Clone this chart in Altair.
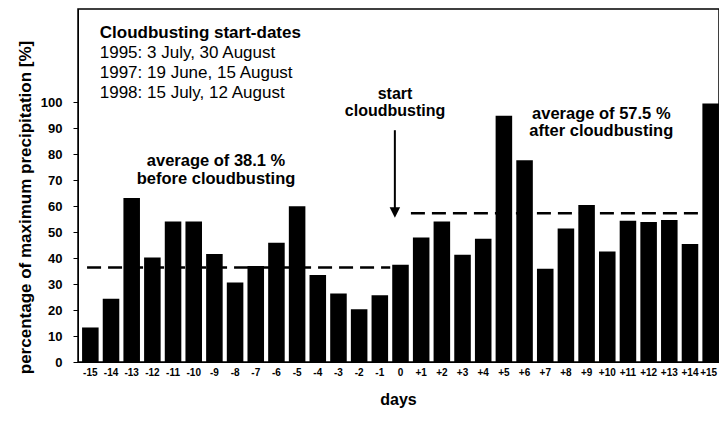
import altair as alt
import pandas as pd

# ---- data ----
days = ["-15", "-14", "-13", "-12", "-11", "-10", "-9", "-8", "-7", "-6", "-5",
        "-4", "-3", "-2", "-1", "0", "+1", "+2", "+3", "+4", "+5", "+6", "+7",
        "+8", "+9", "+10", "+11", "+12", "+13", "+14", "+15"]
precip = [13.3, 24.4, 63.2, 40.3, 54.1, 54.1, 41.6, 30.6, 37.0, 45.9, 60.0,
          33.5, 26.4, 20.3, 25.7, 37.5, 48.0, 54.1, 41.3, 47.5, 94.9, 77.7, 35.9,
          51.4, 60.5, 42.6, 54.4, 53.9, 54.7, 45.5, 99.6]
y_ticks = [0, 10, 20, 30, 40, 50, 60, 70, 80, 90, 100]

avg_start = ["-15", "+1"]
avg_end = ["0", "+15"]
avg_level = [36.4, 57.3]

legend_day = ["-14", "-14", "-14"]
legend_lines = ["1995: 3 July, 30 August", "1997: 19 June, 15 August", "1998: 15 July, 12 August"]
legend_y = [117.2, 109.5, 101.8]
legend_head = ["Cloudbusting start-dates"]
legend_head_y = [124.9]

before_text = ["average of 38.1 %", "before cloudbusting"]
before_y = [75.7, 68.6]
after_text = ["average of 57.5 %", "after cloudbusting"]
after_y = [93.6, 87.1]
start_text = ["start", "cloudbusting"]
start_y = [101.5, 94.6]

arrow_top = [89.3]
arrow_bottom = [59.0]
arrow_head = [57.6]

FONT = "Liberation Sans"
X_TITLE = "days"
Y_TITLE = "percentage of maximum precipitation  [%]"

bars_df = pd.DataFrame({"day": days, "pct": precip})
avg_df = pd.DataFrame({"start": avg_start, "end": avg_end, "level": avg_level})
leg_df = pd.DataFrame({"day": legend_day, "v": legend_y, "t": legend_lines})
head_df = pd.DataFrame({"day": ["-14"], "v": legend_head_y, "t": legend_head})
bef_df = pd.DataFrame({"day": ["-9", "-9"], "v": before_y, "t": before_text})
aft_df = pd.DataFrame({"day": ["+10", "+10"], "v": after_y, "t": after_text})
st_df = pd.DataFrame({"day": ["0", "0"], "v": start_y, "t": start_text})
arr_df = pd.DataFrame({"day": ["0"], "top": arrow_top, "bottom": arrow_bottom, "head": arrow_head})

x_scale = alt.Scale(domain=days, paddingInner=0.2, paddingOuter=0.1)
y_scale = alt.Scale(domain=[0, 136], nice=False, zero=True)

x_axis = alt.Axis(labelAngle=0, ticks=False, labelOverlap=False,
                  labelOffset={"condition": {"test": "datum.label == '+15'", "value": 0},
                               "value": 2},
                  labelFont=FONT, labelFontSize=10, labelFontWeight="bold",
                  labelColor="black", labelPadding=5, domainColor="black",
                  titleFont=FONT, titleFontSize=16, titleFontWeight="bold",
                  titleColor="black", titleX=320, titleY=42.5,
                  titleBaseline="alphabetic")
y_axis = alt.Axis(values=y_ticks, grid=False, tickSize=5, tickColor="black",
                  domainColor="black",
                  labelFont=FONT, labelFontSize=13, labelFontWeight="bold",
                  labelColor="black", labelPadding=11,
                  titleFont=FONT, titleFontSize=17, titleFontWeight="bold",
                  titleColor="black", titleAngle=270, titleX=-48, titleY=198,
                  titleAlign="center", titleBaseline="alphabetic")


def X(field, band=0.5):
    return alt.X(field, scale=x_scale, sort=days, bandPosition=band, axis=x_axis, title=X_TITLE)


def Y(field):
    return alt.Y(field, scale=y_scale, axis=y_axis, title=Y_TITLE)


bars = alt.Chart(bars_df).mark_bar(color="black", xOffset=2).encode(
    x=alt.X("day:N", scale=x_scale, sort=days, axis=x_axis, title=X_TITLE),
    y=Y("pct:Q"),
)

avg_before = alt.Chart(avg_df.iloc[[0]]).mark_rule(
    color="black", strokeWidth=2.5, strokeDash=[14, 7], xOffset=7).encode(
    x=X("start:N", 0),
    x2=alt.X2("end:N", bandPosition=0),
    y=Y("level:Q"),
)
avg_after = alt.Chart(avg_df.iloc[[1]]).mark_rule(
    color="black", strokeWidth=2.5, strokeDash=[14, 7]).encode(
    x=X("start:N", 0),
    x2=alt.X2("end:N", bandPosition=0),
    y=Y("level:Q"),
)


def text_layer(df, align, weight, band, size, dx=0):
    return alt.Chart(df).mark_text(
        align=align, baseline="alphabetic", font=FONT, fontSize=size,
        fontWeight=weight, color="black", dx=dx).encode(
        x=X("day:N", band),
        y=Y("v:Q"),
        text="t:N",
    )


head_txt = text_layer(head_df, "left", "bold", 0, 17, -1)
leg_txt = text_layer(leg_df, "left", "normal", 0, 17, -1)
bef_txt = text_layer(bef_df, "center", "bold", 0.72, 16.5)
aft_txt = text_layer(aft_df, "center", "bold", 0.26, 16.5)
st_txt = text_layer(st_df, "center", "bold", 0.29, 16)

arrow_shaft = alt.Chart(arr_df).mark_rule(color="black", strokeWidth=2).encode(
    x=X("day:N", 0.28),
    y=Y("top:Q"),
    y2="bottom:Q",
)
arrow_tip = alt.Chart(arr_df).mark_point(
    shape="M-1,-1L1,-1L0,1Z", filled=True, color="black", size=110, opacity=1).encode(
    x=X("day:N", 0.28),
    y=Y("head:Q"),
)

chart = alt.layer(
    bars, avg_before, avg_after, head_txt, leg_txt, bef_txt, aft_txt, st_txt,
    arrow_shaft, arrow_tip,
).properties(
    width=641, height=353,
    autosize=alt.AutoSizeParams(type="none"),
    padding={"left": 70, "top": 1, "right": 0, "bottom": 47},
    background="white",
).configure(font=FONT).configure_view(
    stroke="black", strokeWidth=1.5
)

chart.save("out.html", embed_options={"renderer": "svg", "actions": False})
